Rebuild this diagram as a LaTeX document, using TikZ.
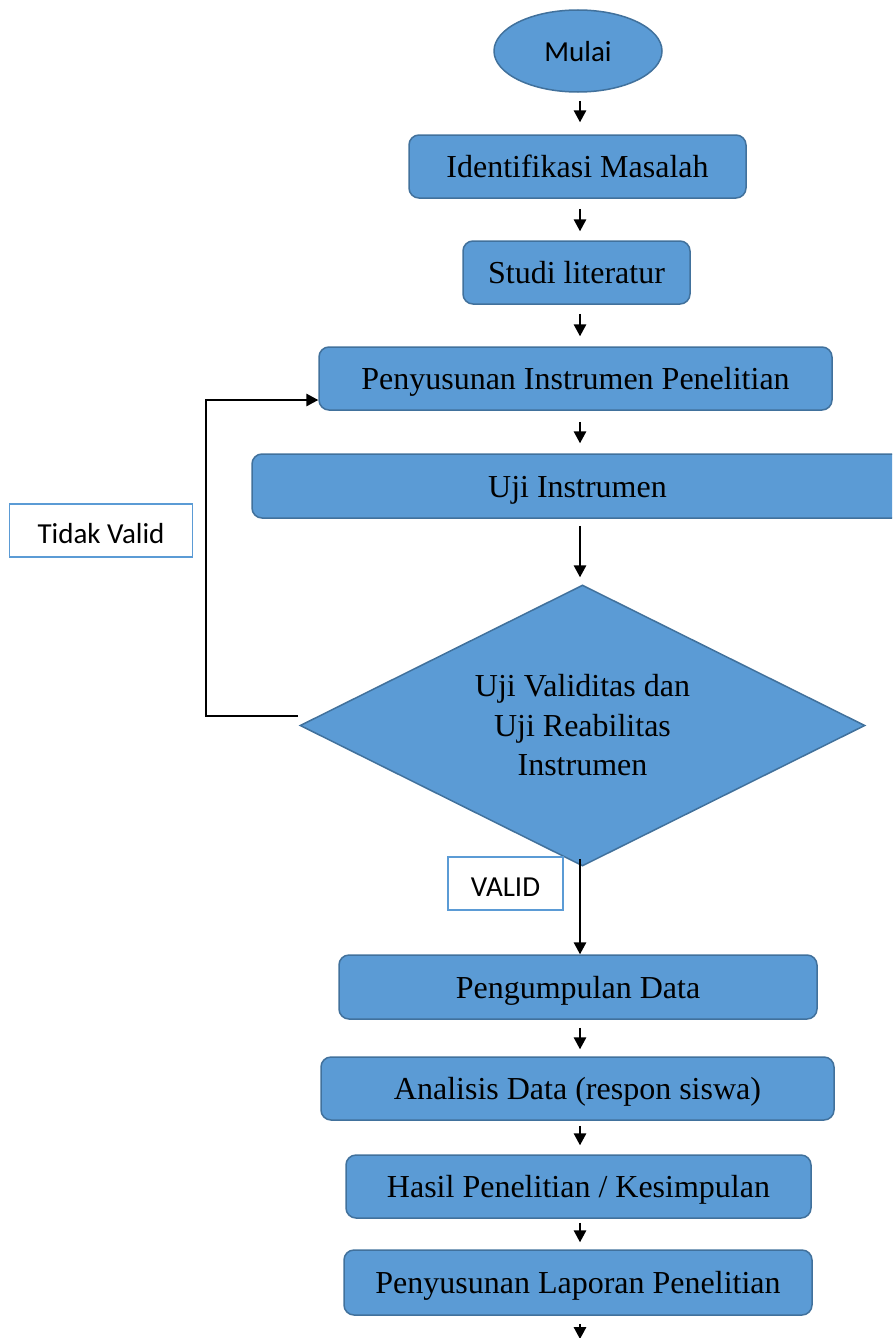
\documentclass[tikz,border=0pt]{standalone}
\usepackage{fontspec}
\setmainfont{Liberation Serif}
\newfontfamily\calib{Carlito}
\usetikzlibrary{arrows.meta,shapes.geometric}
\definecolor{boxfill}{HTML}{5B9BD5}
\definecolor{boxline}{HTML}{41719C}
\definecolor{lblline}{HTML}{5B9BD5}
\begin{document}
\begin{tikzpicture}[x=1pt,y=-1pt,
  stepbox/.style={rectangle, rounded corners=10pt, draw=boxline, fill=boxfill, line width=1.5pt,
    inner sep=0pt, text height=27pt, text depth=4.4pt, font=\fontsize{32}{39.5}\selectfont},
  lbl/.style={rectangle, draw=lblline, fill=white, line width=1.8pt, inner sep=0pt,
    text height=28pt, text depth=2pt, font=\calib\fontsize{29}{34}\selectfont},
  arr/.style={line width=1.6pt, -{Triangle[length=12pt,width=12.5pt]}}]
\useasboundingbox (0,0) rectangle (892,1338);
\clip (0,0) rectangle (892,1338);
\coordinate (axis) at (580,0);
\node[ellipse, draw=boxline, fill=boxfill, line width=1.5pt, minimum width=168pt, minimum height=82pt,
  inner sep=0pt, text height=23.4pt, text depth=2pt, font=\calib\fontsize{29}{34}\selectfont] (mulai) at (578,51) {Mulai};
\node[stepbox, minimum width=337pt, minimum height=63pt] (idm) at (577.5,166.5) {Identifikasi Masalah};
\node[stepbox, minimum width=227pt, minimum height=63pt] (stu) at (576.5,272.5) {Studi literatur};
\node[stepbox, minimum width=513pt, minimum height=63pt] (pen) at (575.5,378.5) {Penyusunan Instrumen Penelitian};
\node[stepbox, minimum width=651pt, minimum height=64pt] (uji) at (577.5,486) {Uji Instrumen};
\node[diamond, shape aspect=2, draw=boxline, fill=boxfill, line width=1.5pt, minimum width=565pt, minimum height=281pt,
  inner sep=0pt, align=center, font=\fontsize{32}{39.5}\selectfont] (dia) at (582.5,725.5)
  {Uji Validitas dan\\Uji Reabilitas\\Instrumen};
\node[stepbox, minimum width=478pt, minimum height=64pt] (peng) at (578,987) {Pengumpulan Data};
\node[stepbox, minimum width=513pt, minimum height=63pt] (ana) at (577.5,1088.5) {Analisis Data (respon siswa)};
\node[stepbox, minimum width=465pt, minimum height=63pt] (has) at (578.5,1186.5) {Hasil Penelitian / Kesimpulan};
\node[stepbox, minimum width=468pt, minimum height=65pt] (lap) at (578,1282.5) {Penyusunan Laporan Penelitian};
\node[lbl, minimum width=183pt, minimum height=53pt] (tv) at (101,530.5) {Tidak Valid};
\node[lbl, minimum width=115pt, minimum height=53pt] (val) at (505.5,883.5) {VALID};
\coordinate (ls) at (298,716);
\coordinate (endpt) at (580,1339);
\draw[arr, shorten <=8pt, shorten >=12pt] (mulai.south -| axis) -- (idm.north -| axis);
\draw[arr, shorten <=10pt, shorten >=9pt] (idm.south -| axis) -- (stu.north -| axis);
\draw[arr, shorten <=9pt, shorten >=10pt] (stu.south -| axis) -- (pen.north -| axis);
\draw[arr, shorten <=11pt, shorten >=10pt] (pen.south -| axis) -- (uji.north -| axis);
\draw[arr, shorten <=7pt, shorten >=7pt] (uji.south -| axis) -- (dia.north -| axis);
\draw[arr, shorten <=-8pt] (dia.south -| axis) -- (peng.north -| axis);
\draw[arr, shorten <=8pt, shorten >=7pt] (peng.south -| axis) -- (ana.north -| axis);
\draw[arr, shorten <=5pt, shorten >=9pt] (ana.south -| axis) -- (has.north -| axis);
\draw[arr, shorten <=4pt, shorten >=7pt] (has.south -| axis) -- (lap.north -| axis);
\draw[arr, shorten <=8pt] (lap.south -| axis) -- (endpt);
\draw[arr] (ls) -- ++(-92,0) |- ([yshift=-21.5pt]pen.west);
\end{tikzpicture}
\end{document}
